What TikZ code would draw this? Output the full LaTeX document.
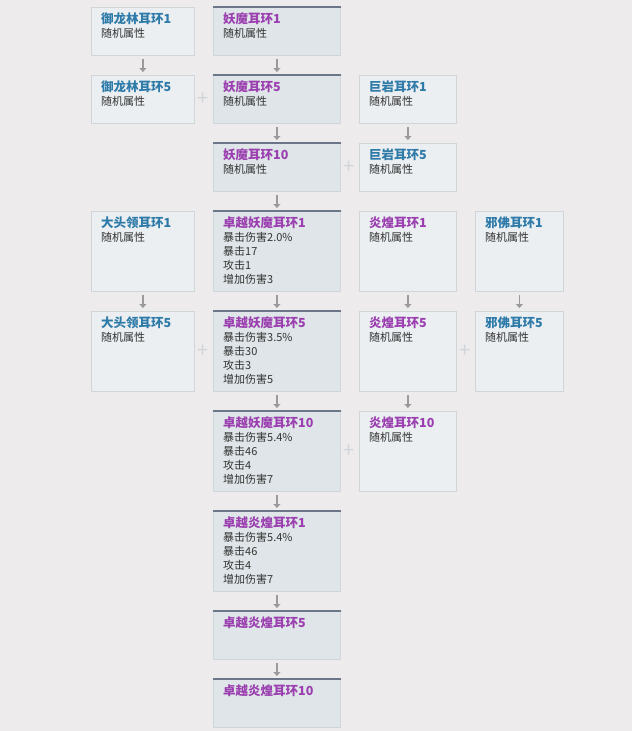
\documentclass[tikz,border=0pt]{standalone}
\usepackage{fontspec}
\setmainfont{Noto Sans CJK SC}
\usetikzlibrary{arrows.meta}
\definecolor{bg}{HTML}{EEEBEC}
\definecolor{lf}{HTML}{EBEFF2}
\definecolor{lb}{HTML}{D0D5D9}
\definecolor{df}{HTML}{DFE5E8}
\definecolor{dt}{HTML}{6B7787}
\definecolor{tb}{HTML}{2E7AA8}
\definecolor{tp}{HTML}{9B3FB0}
\definecolor{tx}{HTML}{333333}
\definecolor{ar}{HTML}{9A9A9A}
\tikzset{
 lbox/.style={draw=lb,fill=lf,line width=0.8pt,anchor=north west,inner sep=0},
 dbox/.style={draw=lb,fill=df,line width=0.8pt,anchor=north west,inner sep=0},
 txt/.style={anchor=north west,align=left,inner sep=0,font=\fontsize{11}{14}\selectfont,text=tx},
 arr/.style={draw=ar,line width=1.6pt,-{Triangle[length=4pt,width=7pt]},shorten <=3pt,shorten >=3pt},
 plus/.style={text=lb,font=\fontsize{20}{20}\selectfont,inner sep=0}
}
\newcommand{\mybox}[9]{%
 \node[#2,minimum width=#5pt,minimum height=#6pt] (#1) at (#3,#4) {};
 \node[txt] (#1t) at ([xshift=10pt,yshift=-6pt]#1.north west) {{\color{#7}\bfseries\fontsize{12.5}{15}\selectfont #8}\\#9};
}
\begin{document}
\begin{tikzpicture}[x=1pt,y=-1pt]
\fill[bg] (0,0) rectangle (632,731);
\useasboundingbox (0,0) rectangle (632,731);
% column A
\mybox{a1}{lbox}{91}{7}{103}{48}{tb}{御龙林耳环1}{随机属性}
\mybox{a2}{lbox}{91}{75}{103}{48}{tb}{御龙林耳环5}{随机属性}
\mybox{a3}{lbox}{91}{211}{103}{80}{tb}{大头领耳环1}{随机属性}
\mybox{a4}{lbox}{91}{311}{103}{80}{tb}{大头领耳环5}{随机属性}
% column B
\mybox{b1}{dbox}{213}{7}{127}{48}{tp}{妖魔耳环1}{随机属性}
\mybox{b2}{dbox}{213}{75}{127}{48}{tp}{妖魔耳环5}{随机属性}
\mybox{b3}{dbox}{213}{143}{127}{48}{tp}{妖魔耳环10}{随机属性}
\mybox{b4}{dbox}{213}{211}{127}{80}{tp}{卓越妖魔耳环1}{暴击伤害2.0\%\\暴击17\\攻击1\\增加伤害3}
\mybox{b5}{dbox}{213}{311}{127}{80}{tp}{卓越妖魔耳环5}{暴击伤害3.5\%\\暴击30\\攻击3\\增加伤害5}
\mybox{b6}{dbox}{213}{411}{127}{80}{tp}{卓越妖魔耳环10}{暴击伤害5.4\%\\暴击46\\攻击4\\增加伤害7}
\mybox{b7}{dbox}{213}{511}{127}{80}{tp}{卓越炎煌耳环1}{暴击伤害5.4\%\\暴击46\\攻击4\\增加伤害7}
\mybox{b8}{dbox}{213}{611}{127}{48}{tp}{卓越炎煌耳环5}{}
\mybox{b9}{dbox}{213}{679}{127}{48}{tp}{卓越炎煌耳环10}{}
\foreach \n in {b1,b2,b3,b4,b5,b6,b7,b8,b9}{\draw[dt,line width=2.5pt] (\n.north west) -- (\n.north east);}
% column C
\mybox{c1}{lbox}{359}{75}{97}{48}{tb}{巨岩耳环1}{随机属性}
\mybox{c2}{lbox}{359}{143}{97}{48}{tb}{巨岩耳环5}{随机属性}
\mybox{c3}{lbox}{359}{211}{97}{80}{tp}{炎煌耳环1}{随机属性}
\mybox{c4}{lbox}{359}{311}{97}{80}{tp}{炎煌耳环5}{随机属性}
\mybox{c5}{lbox}{359}{411}{97}{80}{tp}{炎煌耳环10}{随机属性}
% column D
\mybox{d1}{lbox}{475}{211}{88}{80}{tb}{邪佛耳环1}{随机属性}
\mybox{d2}{lbox}{475}{311}{88}{80}{tb}{邪佛耳环5}{随机属性}
% arrows
\foreach \s/\t in {a1/a2,a3/a4,b1/b2,b2/b3,b3/b4,b4/b5,b5/b6,b6/b7,b7/b8,b8/b9,c1/c2,c3/c4,c4/c5,d1/d2}{\draw[arr] (\s.south) -- (\t.north);}
% plus signs
\node[plus] (p1) at (203.5,99) {+};
\node[plus] (p2) at (203.5,351) {+};
\node[plus] (p3) at (349.5,167) {+};
\node[plus] (p4) at (349.5,451) {+};
\node[plus] (p5) at (465.5,351) {+};
\end{tikzpicture}
\end{document}
